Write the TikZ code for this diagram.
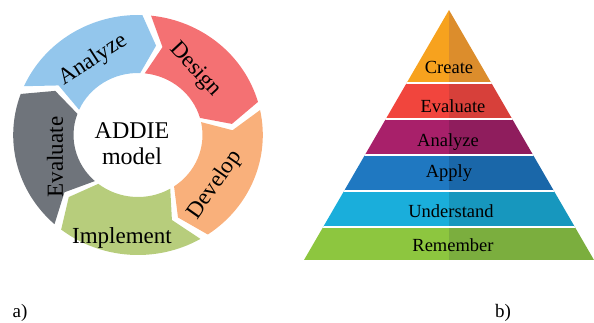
\documentclass[tikz,border=0pt]{standalone}
\usepackage{fontspec}
\setmainfont{Liberation Serif}
\usetikzlibrary{positioning}

\definecolor{analyzecol}{HTML}{93C6EC}
\definecolor{designcol}{HTML}{F47173}
\definecolor{developcol}{HTML}{F9B07B}
\definecolor{implementcol}{HTML}{B7CD7C}
\definecolor{evaluatecol}{HTML}{6F747B}

\definecolor{createL}{HTML}{F7A21E}
\definecolor{createR}{HTML}{DC8D2C}
\definecolor{evaluateL}{HTML}{F1453D}
\definecolor{evaluateR}{HTML}{D7403A}
\definecolor{analyzeL}{HTML}{A8206A}
\definecolor{analyzeR}{HTML}{8F1D5D}
\definecolor{applyL}{HTML}{1F78C1}
\definecolor{applyR}{HTML}{1A67A9}
\definecolor{understandL}{HTML}{1AAEDB}
\definecolor{understandR}{HTML}{1797BE}
\definecolor{rememberL}{HTML}{8DC63F}
\definecolor{rememberR}{HTML}{7BAE3E}

\begin{document}
\begin{tikzpicture}[
        x=1pt, y=1pt,
        seg_label/.style={font=\fontsize{23}{25}\selectfont, inner sep=0pt},
        center_label/.style={font=\fontsize{24}{26}\selectfont, inner sep=0pt, align=center},
        level_label/.style={font=\fontsize{18.5}{20}\selectfont, inner sep=0pt},
        sub_label/.style={font=\fontsize{19}{21}\selectfont, inner sep=0pt},
        sep_line/.style={white, line width=1.3pt}
    ]
    \useasboundingbox (0,0) rectangle (594,322);

    % ADDIE cycle
    \begin{scope}[shift={(138,187)}, xscale=1.04]
    \fill[analyzecol] (156:120) arc[start angle=156, end angle=88, radius=120] -- (79:91) -- (88:62) arc[start angle=88, end angle=156, radius=62] -- (147:91) -- cycle;
    \fill[designcol] (84:120) arc[start angle=84, end angle=16, radius=120] -- (7:91) -- (16:62) arc[start angle=16, end angle=84, radius=62] -- (75:91) -- cycle;
    \fill[developcol] (12:120) arc[start angle=12, end angle=-56, radius=120] -- (-65:91) -- (-56:62) arc[start angle=-56, end angle=12, radius=62] -- (3:91) -- cycle;
    \fill[implementcol] (-60:120) arc[start angle=-60, end angle=-128, radius=120] -- (-137:91) -- (-128:62) arc[start angle=-128, end angle=-60, radius=62] -- (-69:91) -- cycle;
    \fill[evaluatecol] (-132:120) arc[start angle=-132, end angle=-200, radius=120] -- (-209:91) -- (-200:62) arc[start angle=-200, end angle=-132, radius=62] -- (-141:91) -- cycle;
    \end{scope}

    \node[seg_label, rotate=33] (s_analyze) at (93,262) {Analyze};
    \node[seg_label, rotate=-47] (s_design) at (195,252) {Design};
    \node[seg_label, rotate=55] (s_develop) at (215,137) {Develop};
    \node[seg_label] (s_implement) at (122,84) {Implement};
    \node[seg_label, rotate=90] (s_evaluate) at (55,165) {Evaluate};
    \node[center_label] (addie) at (132,178) {ADDIE\\model};

    % Bloom pyramid
    \begin{scope}
    \clip (304,62) -- (449,312) -- (594,62) -- cycle;
    \fill[createL] (300,239) rectangle (449,315);
    \fill[createR] (449,239) rectangle (598,315);
    \fill[evaluateL] (300,203) rectangle (449,239);
    \fill[evaluateR] (449,203) rectangle (598,239);
    \fill[analyzeL] (300,167) rectangle (449,203);
    \fill[analyzeR] (449,167) rectangle (598,203);
    \fill[applyL] (300,131) rectangle (449,167);
    \fill[applyR] (449,131) rectangle (598,167);
    \fill[understandL] (300,95) rectangle (449,131);
    \fill[understandR] (449,95) rectangle (598,131);
    \fill[rememberL] (300,62) rectangle (449,95);
    \fill[rememberR] (449,62) rectangle (598,95);
    \draw[sep_line] (300,239) -- (598,239);
    \draw[sep_line] (300,203) -- (598,203);
    \draw[sep_line] (300,167) -- (598,167);
    \draw[sep_line] (300,131) -- (598,131);
    \draw[sep_line] (300,95) -- (598,95);
    \end{scope}

    \node[level_label] (l_create) at (449,255) {Create};
    \node[level_label] (l_evaluate) at (453,216) {Evaluate};
    \node[level_label] (l_analyze) at (448,180) {Analyze};
    \node[level_label] (l_apply) at (449,149) {Apply};
    \node[level_label] (l_understand) at (451,111) {Understand};
    \node[level_label] (l_remember) at (453,77) {Remember};

    % captions
    \node[sub_label] (cap_a) at (20,9) {a)};
    \node[sub_label] (cap_b) at (503,9) {b)};
\end{tikzpicture}
\end{document}
